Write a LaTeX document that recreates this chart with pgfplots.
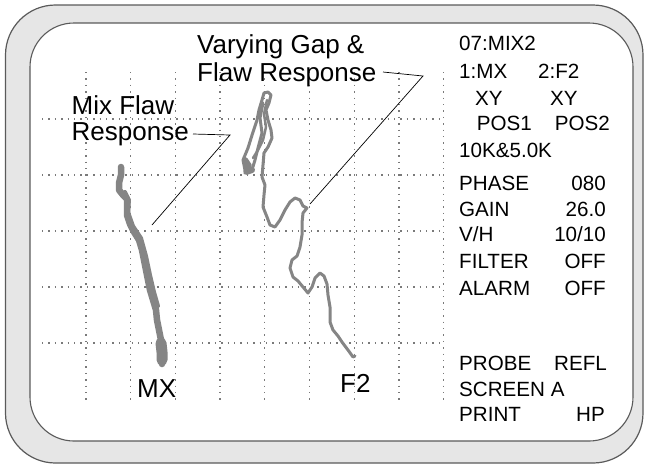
\documentclass[border=0pt]{standalone}
\usepackage{pgfplots}
\pgfplotsset{compat=1.18}
\usepackage{fontspec}
\setmainfont{Liberation Sans}
\definecolor{trace}{HTML}{858585}
\definecolor{ring}{HTML}{E6E6E6}
\definecolor{edge}{HTML}{5A5A5A}
\definecolor{gridc}{HTML}{7A7A7A}
\newcommand{\bigtxt}{\fontsize{26}{28}\selectfont}
\newcommand{\pan}{\fontsize{20.6}{24}\selectfont}
\begin{document}
\begin{tikzpicture}
\begin{axis}[
  at={(0,0)}, anchor=south west,
  scale only axis, width=647pt, height=467pt,
  xmin=0, xmax=647, ymin=0, ymax=467, y dir=reverse,
  hide axis, clip=false,
]
\path (0,0) rectangle (647,467);
% frames
\draw[edge, line width=1.2pt, fill=ring, rounded corners=50pt] (5.5,5) rectangle (643,463);
\draw[edge, line width=1.1pt, fill=white, rounded corners=44pt] (30,23) rectangle (633,441);
% grid
\pgfplotsinvokeforeach{86,130.7,175.4,220,264.8,309.5,354.2,399,443.6}{
  \draw[gridc, line width=1.3pt, dash pattern=on 1.4pt off 5pt] (#1,72) -- (#1,402);
}
\pgfplotsinvokeforeach{119,175,231,287,343}{
  \draw[gridc, line width=1.3pt, dash pattern=on 1.4pt off 5pt] (42,#1) -- (443.6,#1);
}
% MX trace
\addplot[trace, line width=6.5pt, line join=round, line cap=round] coordinates {
 (121,167) (121,175) (119,183) (119,190) (123,195) (127,199) (127,207) (127,215)
 (130,224) (134,232) (139,240) (142,250) (144,260) (146,270) (148,280) (150,290)
 (153,300) (156,310) (157,320) (159,330) (161,340) (162,350) (162,358) (162,364)};
\addplot[trace, line width=4pt, line join=round, line cap=round] coordinates {
 (125,192) (129,200) (128,212) (133,226) (141,238) (146,256) (150,275) (154,292) (158,306)};
\addplot[trace, line width=11pt, line join=round, line cap=round] coordinates {
 (161,343) (162,352) (162,360)};
% F2 trace
\addplot[trace, line width=3pt, line join=round, line cap=round] coordinates {
 (245,170) (243,160) (248,148) (253,132) (257,120) (259,110) (262,100) (264,93)
 (268,92) (271,95) (269,103) (266,110) (268,120) (271,130) (272,138) (268,147)
 (264,153) (263,165) (262,177) (265,185) (264,195) (263,207) (267,217) (270,225)
 (275,227) (280,220) (285,210) (290,202) (295,198) (300,200) (303,206) (307,208)
 (303,213) (302,223) (302,235) (300,247) (297,256) (292,260) (290,268) (293,277)
 (298,281) (303,287) (308,293) (312,287) (315,278) (320,273) (324,276) (327,284)
 (328,295) (330,307) (330,322) (333,330) (338,336) (342,342) (348,350) (353,357) (355,356)};
\addplot[trace, line width=3pt, line join=round, line cap=round] coordinates {
 (263,103) (260,118) (262,133) (258,148) (255,160) (252,170)};
\addplot[trace, line width=2.5pt, line join=round, line cap=round] coordinates {
 (267,100) (264,114) (266,127) (263,140) (258,150) (253,158)};
\addplot[trace, line width=6pt, line join=round, line cap=round] coordinates {
 (245,160) (249,166) (246,172) (252,170)};
% pointers
\draw[black, line width=0.7pt] (193,134) -- (230,135) -- (152,225);
\draw[black, line width=0.7pt] (383,72) -- (423,76) -- (310,204);
% annotations
\node[anchor=base west, inner sep=0pt] at (197,53) {\bigtxt Varying Gap \&};
\node[anchor=base west, inner sep=0pt] at (197,81) {\bigtxt Flaw Response};
\node[anchor=base west, inner sep=0pt] at (71.5,114) {\bigtxt Mix Flaw};
\node[anchor=base west, inner sep=0pt] at (71.5,140) {\bigtxt Response};
\node[anchor=base west, inner sep=0pt] at (137,397) {\bigtxt MX};
\node[anchor=base west, inner sep=0pt] at (340,392) {\bigtxt F2};
% panel
\node[anchor=base west, inner sep=0pt] at (459,50.7) {\pan 07:MIX2};
\node[anchor=base west, inner sep=0pt] at (459,78.3) {\pan 1:MX};
\node[anchor=base west, inner sep=0pt] at (538,78.3) {\pan 2:F2};
\node[anchor=base west, inner sep=0pt] at (475,105) {\pan XY};
\node[anchor=base west, inner sep=0pt] at (550,105) {\pan XY};
\node[anchor=base west, inner sep=0pt] at (476.7,130) {\pan POS1};
\node[anchor=base east, inner sep=0pt] at (610,130) {\pan POS2};
\node[anchor=base west, inner sep=0pt] at (459,157.7) {\pan 10K\&5.0K};
\node[anchor=base west, inner sep=0pt] at (459,190) {\pan PHASE};
\node[anchor=base east, inner sep=0pt] at (606,190) {\pan 080};
\node[anchor=base west, inner sep=0pt] at (459,216.7) {\pan GAIN};
\node[anchor=base east, inner sep=0pt] at (606,216.7) {\pan 26.0};
\node[anchor=base west, inner sep=0pt] at (459,241.7) {\pan V/H};
\node[anchor=base east, inner sep=0pt] at (606,241.7) {\pan 10/10};
\node[anchor=base west, inner sep=0pt] at (459,268.3) {\pan FILTER};
\node[anchor=base east, inner sep=0pt] at (606,268.3) {\pan OFF};
\node[anchor=base west, inner sep=0pt] at (459,295) {\pan ALARM};
\node[anchor=base east, inner sep=0pt] at (606,295) {\pan OFF};
\node[anchor=base west, inner sep=0pt] at (459,370.7) {\pan PROBE};
\node[anchor=base east, inner sep=0pt] at (607,370.7) {\pan REFL};
\node[anchor=base west, inner sep=0pt] at (459,396.7) {\pan SCREEN A};
\node[anchor=base west, inner sep=0pt] at (459,421.7) {\pan PRINT};
\node[anchor=base east, inner sep=0pt] at (605,421.7) {\pan HP};
\end{axis}
\end{tikzpicture}
\end{document}
